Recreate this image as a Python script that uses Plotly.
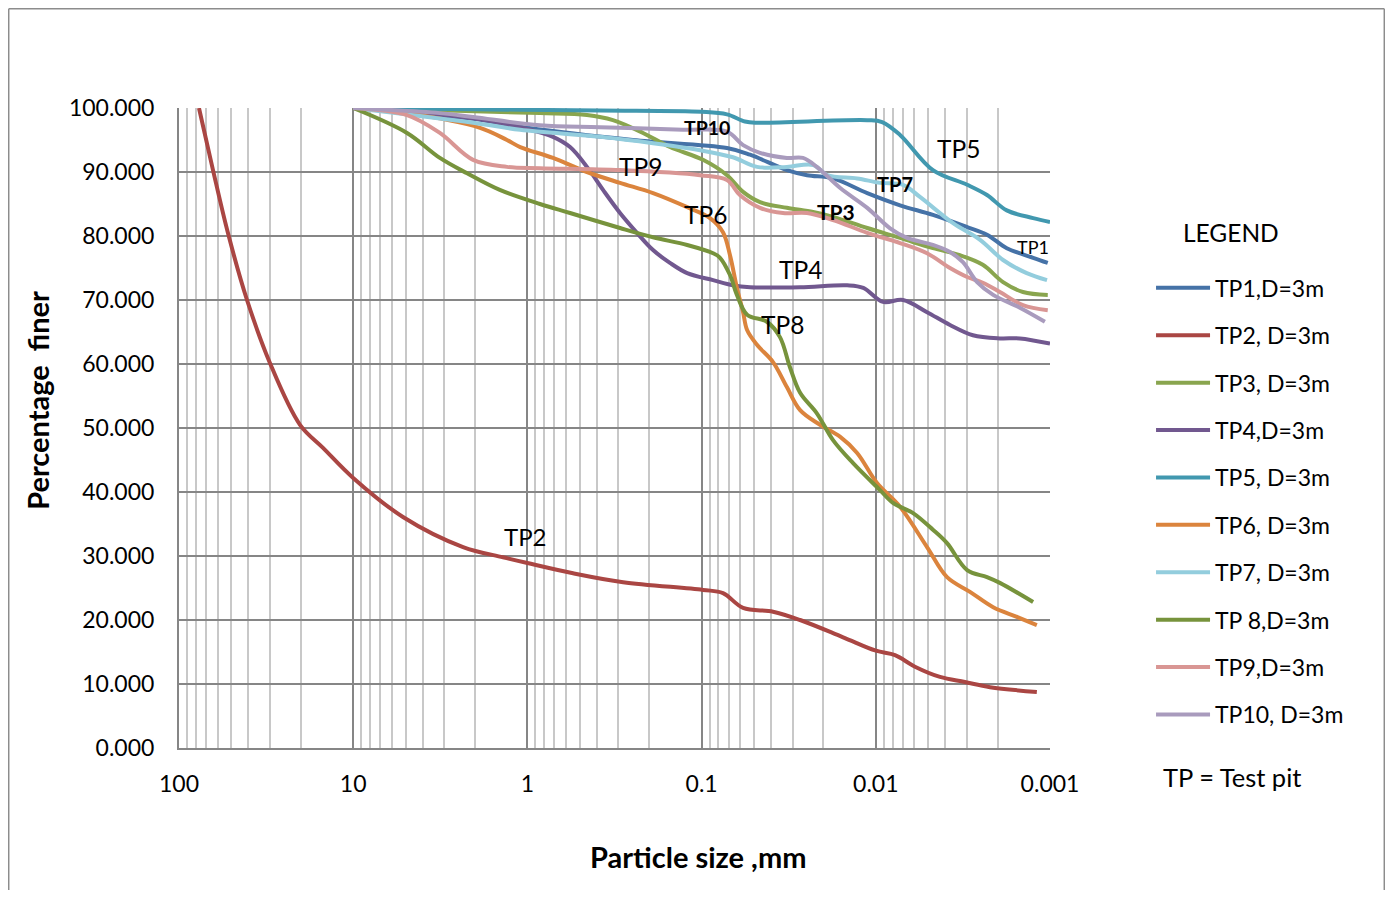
import math
import plotly.graph_objects as go

# ---- data: particle size (mm) and percentage finer ----
tp1_d = [10, 2.05, 1, 0.248, 0.0715, 0.0527, 0.0324, 0.0248, 0.0176, 0.0112, 0.00726, 0.0047, 0.00299, 0.0023, 0.00177, 0.00125, 0.00103]
tp1_p = [100, 98.3, 96.9, 95.0, 93.75, 92.7, 90.3, 89.5, 89.0, 86.7, 84.8, 83.3, 81.4, 80.2, 78.1, 76.6, 75.8]

tp2_d = [76.8, 63.8, 52.4, 40.7, 30.1, 20.2, 14.9, 10, 5.18, 2.34, 1.38, 1, 0.547, 0.282, 0.0982, 0.0754, 0.0578, 0.0389, 0.0272, 0.0154, 0.00998, 0.00776, 0.00596, 0.00428, 0.00308, 0.00221, 0.00119]
tp2_p = [100, 90.3, 80.5, 70.0, 60.2, 50.5, 46.9, 42.2, 36.1, 31.4, 29.8, 28.9, 27.3, 25.9, 24.7, 24.2, 21.9, 21.3, 20.0, 17.3, 15.2, 14.5, 12.7, 11.1, 10.3, 9.5, 8.75]

tp3_d = [10, 2.0, 0.847, 0.455, 0.323, 0.217, 0.152, 0.0982, 0.0715, 0.0578, 0.0462, 0.0324, 0.0229, 0.0176, 0.0112, 0.00726, 0.0047, 0.00329, 0.00243, 0.00186, 0.00143, 0.00103]
tp3_p = [100, 99.5, 99.2, 98.9, 98.1, 96.1, 93.9, 91.9, 89.5, 86.9, 85.3, 84.4, 83.75, 83.0, 81.25, 79.7, 78.1, 77.0, 75.5, 72.8, 71.25, 70.8]

tp4_d = [10, 2.05, 1.10, 0.713, 0.569, 0.455, 0.368, 0.294, 0.235, 0.190, 0.152, 0.121, 0.0859, 0.0661, 0.0527, 0.0272, 0.0146, 0.0118, 0.0091, 0.00698, 0.00508, 0.00375, 0.00277, 0.00194, 0.00149, 0.001]
tp4_p = [100, 98.4, 97.0, 95.5, 93.9, 90.8, 87.2, 83.6, 80.5, 77.8, 75.8, 74.2, 73.1, 72.3, 72.0, 72.0, 72.3, 71.9, 69.7, 70.0, 68.1, 66.1, 64.5, 64.0, 64.0, 63.2]

tp5_d = [10, 2.0, 0.383, 0.1, 0.0715, 0.0564, 0.0481, 0.0112, 0.0092, 0.00726, 0.0047, 0.00299, 0.0023, 0.00177, 0.00125, 0.001]
tp5_p = [100, 99.8, 99.6, 99.4, 99.0, 97.9, 97.7, 98.1, 97.8, 95.8, 90.3, 88.0, 86.4, 84.0, 82.8, 82.2]

tp6_d = [10, 4.91, 1.87, 1.31, 1.10, 0.713, 0.455, 0.294, 0.190, 0.121, 0.0895, 0.0754, 0.0687, 0.0627, 0.0578, 0.0548, 0.0481, 0.0389, 0.0324, 0.0272, 0.0209, 0.0160, 0.0128, 0.00984, 0.00726, 0.00508, 0.00390, 0.00288, 0.00212, 0.00155, 0.00119]
tp6_p = [100, 99.2, 96.9, 95.0, 93.9, 92.2, 90.0, 88.3, 86.7, 84.5, 82.8, 80.6, 77.0, 71.9, 68.1, 65.3, 63.0, 60.3, 56.4, 52.8, 50.5, 48.6, 46.1, 41.4, 37.7, 31.4, 26.7, 24.4, 22.0, 20.5, 19.2]

tp7_d = [10, 2.05, 1.10, 0.383, 0.190, 0.102, 0.0661, 0.0481, 0.0324, 0.0229, 0.0190, 0.0128, 0.00946, 0.00698, 0.00558, 0.00360, 0.00252, 0.00186, 0.00136, 0.00104]
tp7_p = [100, 97.7, 96.6, 95.5, 94.5, 93.4, 92.3, 90.8, 90.8, 91.1, 89.5, 89.0, 88.3, 88.0, 86.1, 82.0, 79.4, 76.25, 74.2, 73.1]

tp8_d = [10, 4.91, 3.18, 2.22, 1.44, 0.847, 0.569, 0.294, 0.190, 0.121, 0.0859, 0.0784, 0.0687, 0.0627, 0.0548, 0.0422, 0.0355, 0.0311, 0.0272, 0.0218, 0.0176, 0.0135, 0.00946, 0.00797, 0.00611, 0.0047, 0.0039, 0.00299, 0.0023, 0.00194, 0.00125]
tp8_p = [100, 96.1, 92.2, 89.8, 87.2, 85.0, 83.6, 81.25, 79.8, 78.6, 77.3, 76.6, 73.9, 70.8, 67.7, 66.6, 64.2, 59.5, 55.5, 52.3, 48.1, 44.5, 40.3, 38.3, 36.7, 34.1, 32.0, 27.8, 26.7, 25.8, 22.8]

tp9_d = [10, 4.91, 3.18, 2.05, 1.31, 0.847, 0.294, 0.102, 0.0715, 0.0603, 0.0462, 0.0341, 0.0248, 0.0176, 0.0112, 0.00726, 0.00508, 0.00375, 0.00299, 0.00243, 0.00194, 0.00143, 0.00103]
tp9_p = [100, 98.9, 96.1, 91.9, 90.8, 90.6, 90.3, 89.5, 88.75, 86.4, 84.4, 83.6, 83.6, 82.5, 80.5, 78.9, 77.3, 75.0, 73.6, 72.7, 71.25, 69.2, 68.4]

tp10_d = [10, 3.18, 2.05, 0.847, 0.383, 0.128, 0.0715, 0.0578, 0.0462, 0.0324, 0.0262, 0.0218, 0.0160, 0.0112, 0.00828, 0.00662, 0.0047, 0.00375, 0.00316, 0.00262, 0.00212, 0.00149, 0.00107]
tp10_p = [100, 99.2, 98.6, 97.3, 97.0, 96.6, 96.3, 94.2, 93.0, 92.2, 92.2, 90.8, 87.5, 84.4, 81.2, 79.7, 78.6, 77.5, 75.9, 72.8, 70.8, 68.8, 66.6]

series_names = ["TP1,D=3m", "TP2, D=3m", "TP3, D=3m", "TP4,D=3m", "TP5, D=3m",
                "TP6, D=3m", "TP7, D=3m", "TP 8,D=3m", "TP9,D=3m", "TP10, D=3m"]
series_d = [tp1_d, tp2_d, tp3_d, tp4_d, tp5_d, tp6_d, tp7_d, tp8_d, tp9_d, tp10_d]
series_p = [tp1_p, tp2_p, tp3_p, tp4_p, tp5_p, tp6_p, tp7_p, tp8_p, tp9_p, tp10_p]
series_colors = ["#4572A7", "#AA4643", "#89A54E", "#71588F", "#4198AF",
                 "#DB843D", "#93CDDD", "#77933C", "#D99694", "#A99BBD"]

x_tick_vals = [100, 10, 1, 0.1, 0.01, 0.001]
x_tick_text = ["100", "10", "1", "0.1", "0.01", "0.001"]

# in-chart labels: (text, size mm, percent, bold, font size)
labels = [
    ("TP10", 0.0931, 97.0, True, 19.5),
    ("TP5", 0.00333, 93.75, False, 24.5),
    ("TP9", 0.223, 90.8, False, 24.5),
    ("TP7", 0.00776, 88.1, True, 20),
    ("TP6", 0.0944, 83.3, False, 24.5),
    ("TP3", 0.0169, 83.9, True, 21),
    ("TP1", 0.00125, 78.3, False, 18),
    ("TP4", 0.0269, 74.7, False, 24.5),
    ("TP8", 0.0345, 66.25, False, 24.5),
    ("TP2", 1.03, 33.0, False, 24),
]

FONT = "Lato, 'Open Sans', sans-serif"

fig = go.Figure()
for name, d, p, c in zip(series_names, series_d, series_p, series_colors):
    fig.add_trace(go.Scatter(
        x=d, y=p, mode="lines", name=name, legendgroup=name,
        line=dict(color=c, width=4, shape="spline", smoothing=1.0),
    ))

minor_vals = [m * 10 ** k for k in range(-3, 2) for m in range(2, 10)]

fig.update_xaxes(
    type="log", range=[2, -3],
    tickmode="array", tickvals=x_tick_vals, ticktext=x_tick_text,
    showgrid=True, gridcolor="#868686", gridwidth=1.5,
    minor=dict(tickmode="array", tickvals=minor_vals, showgrid=True,
               gridcolor="#C8C8C8", gridwidth=1.5),
    showline=True, linecolor="#868686", linewidth=2,
    ticks="", ticklabelstandoff=14,
    tickfont=dict(family=FONT, size=23, color="#000000"),
    zeroline=False,
)
fig.update_yaxes(
    range=[0, 100], dtick=10, tick0=0, tickformat=".3f",
    showgrid=True, gridcolor="#868686", gridwidth=1.5,
    showline=True, linecolor="#868686", linewidth=2,
    ticks="", ticklabelstandoff=18,
    tickfont=dict(family=FONT, size=23, color="#000000"),
    zeroline=False,
)

annotations = []
for text, d, p, bold, fs in labels:
    annotations.append(dict(
        x=math.log10(d), y=p, xref="x", yref="y", showarrow=False,
        xanchor="center", yanchor="middle",
        text=f"<b>{text}</b>" if bold else text,
        font=dict(family=FONT, size=fs, color="#000000"),
    ))
# axis titles
annotations.append(dict(x=0.596, y=-0.170, xref="paper", yref="paper", showarrow=False,
                        xanchor="center", yanchor="middle",
                        text="<b>Particle size ,mm</b>",
                        font=dict(family=FONT, size=29, color="#000000")))
annotations.append(dict(x=-0.1619, y=0.544, xref="paper", yref="paper", showarrow=False,
                        xanchor="center", yanchor="middle", textangle=-90,
                        text="<b>Percentage  finer</b>",
                        font=dict(family=FONT, size=29, color="#000000")))
# legend heading and note
annotations.append(dict(x=1.208, y=0.806, xref="paper", yref="paper", showarrow=False,
                        xanchor="center", yanchor="middle",
                        text="LEGEND", font=dict(family=FONT, size=24.5, color="#000000")))
annotations.append(dict(x=1.209, y=-0.045, xref="paper", yref="paper", showarrow=False,
                        xanchor="center", yanchor="middle",
                        text="TP = Test pit", font=dict(family=FONT, size=25.5, color="#000000")))

border = dict(color="#8C8C8C", width=1.5)
fig.update_layout(
    width=1377, height=882,
    margin=dict(l=171, r=335, t=100, b=142),
    paper_bgcolor="#FFFFFF", plot_bgcolor="#FFFFFF",
    font=dict(family=FONT, color="#000000"),
    showlegend=True,
    legend=dict(x=1.116, y=0.7525, xanchor="left", yanchor="top",
                font=dict(family=FONT, size=23, color="#000000"),
                tracegroupgap=14.5, itemwidth=54, bgcolor="rgba(0,0,0,0)"),
    annotations=annotations,
    shapes=[
        dict(type="line", xref="paper", yref="paper", x0=-0.1955, x1=-0.1955,
             y0=-0.23, y1=1.155, line=border, layer="below"),
        dict(type="line", xref="paper", yref="paper", x0=-0.1955, x1=1.3838,
             y0=1.155, y1=1.155, line=border, layer="below"),
        dict(type="line", xref="paper", yref="paper", x0=1.3838, x1=1.3838,
             y0=-0.23, y1=1.155, line=border, layer="below"),
    ],
)

fig.write_html("out.html")
